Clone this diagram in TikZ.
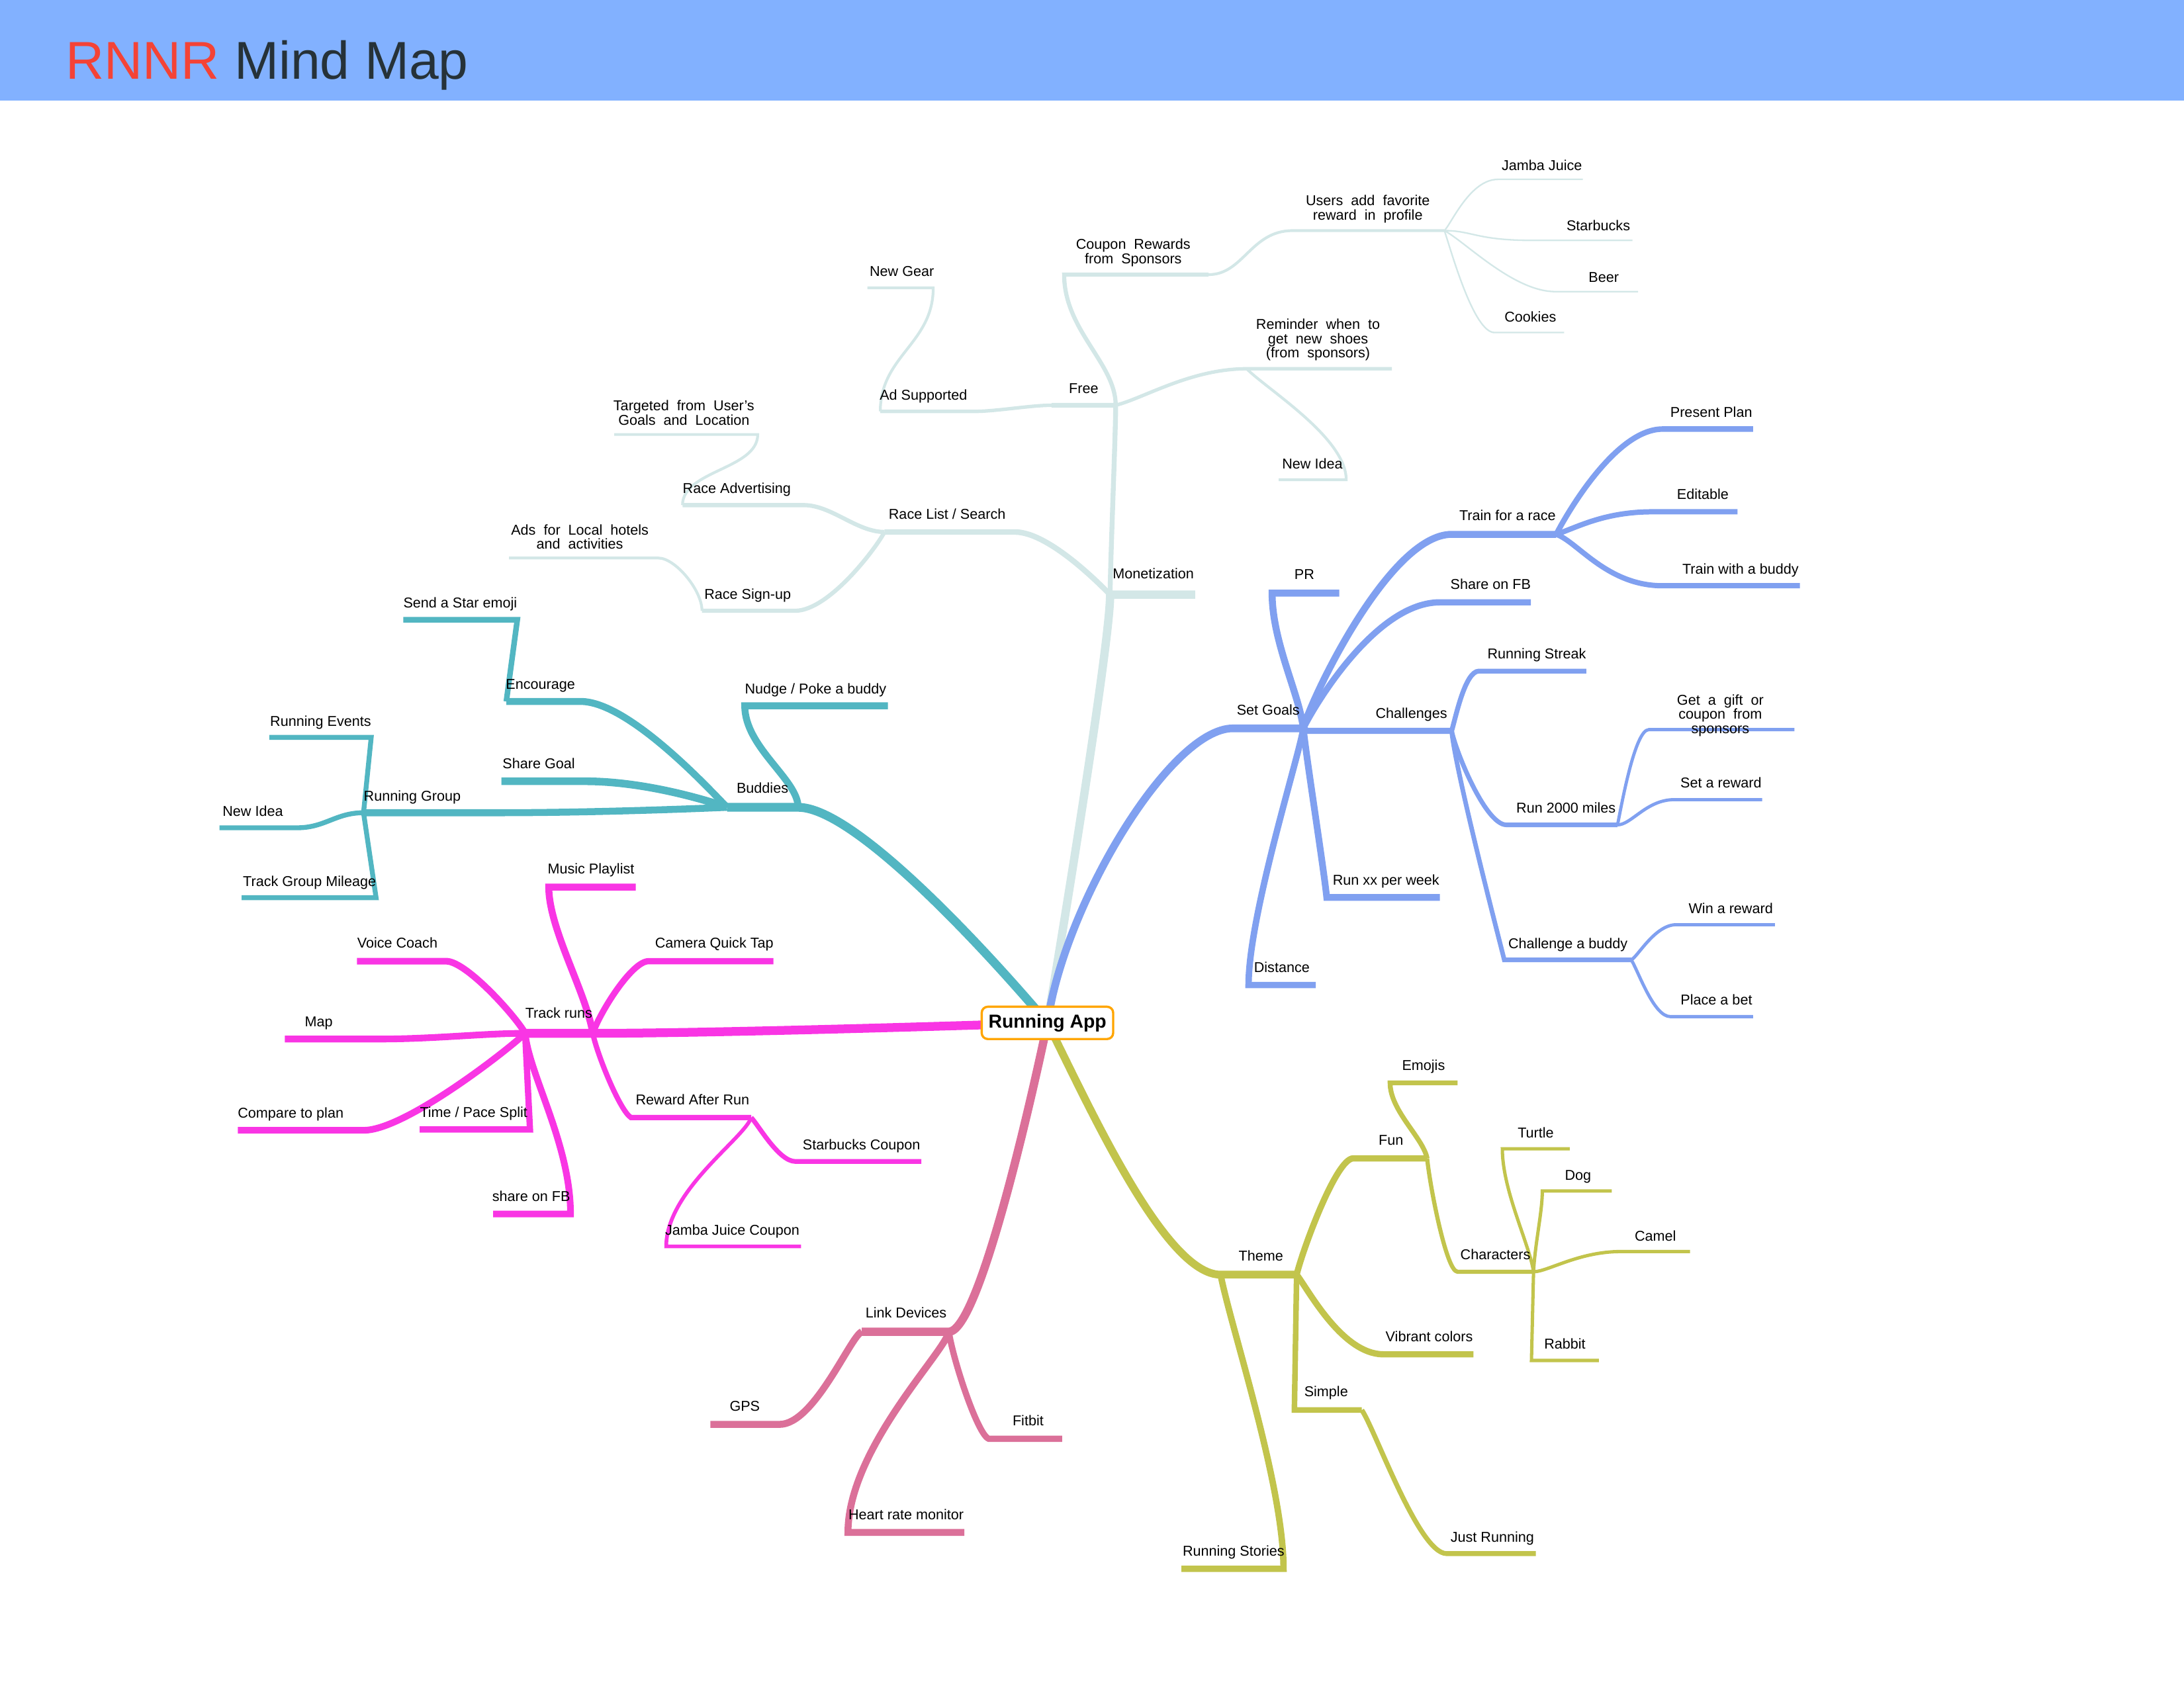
\documentclass[tikz,border=0pt]{standalone}
\usepackage{fontspec}
\setmainfont{Liberation Sans}
\pgfdeclarelayer{lines}
\pgfsetlayers{lines,main}
\definecolor{cMon}{RGB}{211,231,231}
\definecolor{cBud}{RGB}{82,182,194}
\definecolor{cTrk}{RGB}{249,53,228}
\definecolor{cSet}{RGB}{128,160,240}
\definecolor{cThm}{RGB}{194,196,76}
\definecolor{cLnk}{RGB}{219,112,153}
\definecolor{cBand}{RGB}{130,177,255}
\definecolor{cRed}{RGB}{244,67,54}
\definecolor{cInk}{RGB}{38,50,56}
\definecolor{cRoot}{RGB}{255,165,0}
\setlength{\lineskiplimit}{-10pt}
\newcommand\dsp{\ \ }
% branch: name, style, parent, c1, c2, x-attach, x-far, y
\newcommand\mmbr[8]{%
  \coordinate (#1-a) at (#6,#8);
  \coordinate (#1-b) at (#7,#8);
  \begin{pgfonlayer}{lines}
  \draw[#2] (#3) .. controls +(#4) and +(#5) .. (#1-a) -- (#1-b);
  \end{pgfonlayer}}
\newcommand\mmlb[4]{\node[lbl] (#1) at (#2,#3) {#4};}
\newcommand\mmlbm[4]{\node[lblm] (#1) at (#2,#3) {#4};}
\begin{document}
\begin{tikzpicture}[x=0.25mm,y=-0.25mm,
  lw/.style={line width=#1*0.711pt},
  lbl/.style={font=\fontsize{7.3}{7.3}\selectfont, inner sep=0pt, text height=5.2pt, text depth=0pt, anchor=center},
  lblm/.style={font=\fontsize{7.3}{7.3}\selectfont, inner sep=0pt, align=center, anchor=center},
  rootbox/.style={draw=cRoot, line width=1.15pt, fill=white, rounded corners=1.1mm, minimum width=23.6mm, minimum height=5.8mm, inner sep=0pt, font=\bfseries\fontsize{9.6}{9.6}\selectfont}]
\useasboundingbox (0,0) rectangle (1568,1212);
\fill[cBand] (0,0) rectangle (1568,72);
\node[anchor=base west, inner sep=0pt, font=\fontsize{27.2}{27.2}\selectfont] (title) at (47,57) {\textcolor{cRed}{RNNR} \textcolor{cInk}{Mind Map}};
\node[rootbox] (root) at (752,734.5) {Running App};

% ---------------- Monetization
\mmbr{m0}{cMon,lw=6}{root.center}{0,0}{0,40}{797}{858}{427}
\mmbr{m1}{cMon,lw=3.5}{m0-a}{0,-20}{0,20}{801}{755}{291}
\mmbr{m1a}{cMon,lw=2.5}{m1-b}{-15,0}{15,0}{700}{632}{295.4}
\mmbr{m1a1}{cMon,lw=2}{m1a-b}{0,-40}{0,40}{670}{622.7}{206.7}
\mmbr{m1b}{cMon,lw=3}{m1-a}{0,-30}{0,40}{764}{867.7}{197.2}
\mmbr{m1b1}{cMon,lw=2}{m1b-b}{25,0}{-30,0}{928}{1037}{165.6}
\mmbr{m1b1a}{cMon,lw=1.1}{m1b1-b}{5,-5}{-20,0}{1075.4}{1136.4}{128.8}
\mmbr{m1b1b}{cMon,lw=1.1}{m1b1-b}{20,0}{-40,0}{1100}{1172}{172.6}
\mmbr{m1b1c}{cMon,lw=1.1}{m1b1-b}{15,8}{-30,0}{1116.6}{1176}{209.4}
\mmbr{m1b1d}{cMon,lw=1.1}{m1b1-b}{5,15}{-15,0}{1073}{1123}{238.8}
\mmbr{m1c}{cMon,lw=2.5}{m1-a}{20,-5}{-40,0}{895}{999.3}{264.8}
\mmbr{m1c1}{cMon,lw=2}{m1c-a}{15,15}{0,-30}{966.5}{918}{344.5}
\mmbr{m2}{cMon,lw=4}{m0-a}{-5,-5}{25,0}{728.6}{635}{382}
\mmbr{m2a}{cMon,lw=3}{m2-b}{-20,0}{20,0}{577}{490}{362.7}
\mmbr{m2a1}{cMon,lw=2}{m2a-b}{0,-25}{0,25}{544}{441}{312}
\mmbr{m2b}{cMon,lw=3}{m2-b}{-5,10}{25,0}{570.7}{504}{438.6}
\mmbr{m2b1}{cMon,lw=2}{m2b-b}{0,-15}{12,0}{472.7}{365.5}{400.7}

\mmlb{m0}{828}{412}{Monetization}
\mmlb{m1}{778}{279}{Free}
\mmlb{m1a}{663}{283.5}{Ad Supported}
\mmlb{m1a1}{647.5}{194.8}{New Gear}
\mmlbm{m1b}{813.6}{181.5}{Coupon\dsp Rewards\\from\dsp Sponsors}
\mmlbm{m1b1}{982}{150}{Users\dsp add\dsp favorite\\reward\dsp in\dsp profile}
\mmlb{m1b1a}{1107}{118.5}{Jamba Juice}
\mmlb{m1b1b}{1147.5}{161.9}{Starbucks}
\mmlb{m1b1c}{1151.4}{198.8}{Beer}
\mmlb{m1b1d}{1098.7}{227.3}{Cookies}
\mmlbm{m1c}{946.3}{244}{Reminder\dsp when\dsp to\\get\dsp new\dsp shoes\\(from\dsp sponsors)}
\mmlb{m1c1}{942.2}{332.8}{New Idea}
\mmlb{m2}{680}{369}{Race List / Search}
\mmlb{m2a}{529}{350.7}{Race Advertising}
\mmlbm{m2a1}{491}{296.5}{Targeted\dsp from\dsp User's\\Goals\dsp and\dsp Location}
\mmlb{m2b}{536.8}{426.7}{Race Sign-up}
\mmlbm{m2b1}{416.3}{385.5}{Ads\dsp for\dsp Local\dsp hotels\\and\dsp activities}

% ---------------- Buddies
\mmbr{b0}{cBud,lw=6.3}{root.center}{0,0}{50,0}{573}{522}{579.7}
\mmbr{b1}{cBud,lw=5}{b0-b}{-10,-10}{35,0}{417}{363.5}{503.7}
\mmbr{b1a}{cBud,lw=4}{b1-b}{0,0}{0,0}{371.4}{289.6}{445}
\mmbr{b2}{cBud,lw=5.5}{b0-b}{0,0}{50,0}{420}{360}{561}
\mmbr{b3}{cBud,lw=5}{b0-b}{0,0}{80,0}{356.6}{261}{583.6}
\mmbr{b3a}{cBud,lw=3.5}{b3-b}{0,0}{0,0}{266.5}{193.3}{529.5}
\mmbr{b3b}{cBud,lw=3.5}{b3-b}{-20,0}{20,0}{213.4}{157.6}{594.4}
\mmbr{b3c}{cBud,lw=3.5}{b3-b}{0,0}{0,0}{270}{173.5}{644.6}
\mmbr{b4}{cBud,lw=5}{b0-a}{0,-20}{0,30}{534.7}{637.5}{506.8}

\mmlb{b0}{547.4}{565.8}{Buddies}
\mmlb{b1}{388}{491}{Encourage}
\mmlb{b1a}{330.4}{432.7}{Send a Star emoji}
\mmlb{b2}{386.8}{548}{Share Goal}
\mmlb{b3}{296}{571.5}{Running Group}
\mmlb{b3a}{230.2}{517.6}{Running Events}
\mmlb{b3b}{181.5}{582.4}{New Idea}
\mmlb{b3c}{222.2}{633}{Track Group Mileage}
\mmlb{b4}{585.6}{494.5}{Nudge / Poke a buddy}

% ---------------- Track runs
\mmbr{t0}{cTrk,lw=6.3}{root.center}{0,0}{100,0}{425.6}{377}{742}
\mmbr{t1}{cTrk,lw=5}{t0-a}{-5,-30}{0,30}{394}{456.4}{637}
\mmbr{t2}{cTrk,lw=4.5}{t0-a}{5,-15}{-12,0}{465.6}{555.3}{690.2}
\mmbr{t3}{cTrk,lw=3.8}{t0-a}{3,15}{-8,-5}{453}{539.3}{802.5}
\mmbr{t3a}{cTrk,lw=3.4}{t3-b}{5,5}{-12,0}{571}{661.5}{834}
\mmbr{t3b}{cTrk,lw=2.7}{t3-b}{-5,15}{0,-40}{478.3}{575.1}{895}
\mmbr{t4}{cTrk,lw=4.8}{t0-b}{-5,-10}{15,0}{320.3}{256.3}{690.2}
\mmbr{t5}{cTrk,lw=4.8}{t0-b}{-30,0}{40,0}{271.8}{204.5}{746.1}
\mmbr{t6}{cTrk,lw=4.8}{t0-b}{-10,10}{30,0}{261.3}{170.8}{811.6}
\mmbr{t7}{cTrk,lw=4.5}{t0-b}{0,0}{0,0}{380.5}{301.3}{811}
\mmbr{t8}{cTrk,lw=4.8}{t0-b}{3,30}{0,-50}{409.6}{354}{871.7}

\mmlb{t0}{401.2}{727.4}{Track runs}
\mmlb{t1}{424.3}{623.6}{Music Playlist}
\mmlb{t2}{512.8}{677}{Camera Quick Tap}
\mmlb{t3}{497.2}{789.5}{Reward After Run}
\mmlb{t3a}{618.5}{822}{Starbucks Coupon}
\mmlb{t3b}{525.8}{883.2}{Jamba Juice Coupon}
\mmlb{t4}{285.3}{677}{Voice Coach}
\mmlb{t5}{228.9}{733.7}{Map}
\mmlb{t6}{208.7}{799.2}{Compare to plan}
\mmlb{t7}{340.1}{798.6}{Time / Pace Split}
\mmlb{t8}{381.4}{858.8}{share on FB}

% ---------------- Set Goals
\mmbr{s0}{cSet,lw=5.5}{root.center}{12,-85}{-45,0}{885.2}{935.7}{523}
\mmbr{s1}{cSet,lw=5}{s0-b}{-3,-25}{0,35}{913.3}{961.5}{425.9}
\mmbr{s2}{cSet,lw=5}{s0-b}{5,-20}{-45,0}{1042.2}{1117.3}{383.7}
\mmbr{s2a}{cSet,lw=4}{s2-b}{5,-10}{-35,0}{1193.6}{1258.6}{308.1}
\mmbr{s2b}{cSet,lw=3.8}{s2-b}{15,-5}{-35,0}{1186.6}{1247.4}{367.5}
\mmbr{s2c}{cSet,lw=3.8}{s2-b}{15,5}{-40,0}{1193.6}{1292.2}{420.6}
\mmbr{s3}{cSet,lw=4.5}{s0-b}{10,-20}{-45,0}{1033.8}{1099.1}{432.5}
\mmbr{s4}{cSet,lw=4.5}{s0-b}{0,0}{0,0}{938.5}{1042.2}{524.8}
\mmbr{s4a}{cSet,lw=3.5}{s4-b}{3,-10}{-10,0}{1061.8}{1138.9}{481.9}
\mmbr{s4b}{cSet,lw=3.3}{s4-b}{3,15}{-15,0}{1081.5}{1161.3}{592.3}
\mmbr{s4b1}{cSet,lw=2.3}{s4b-b}{3,-15}{-10,0}{1183.8}{1288.3}{523.9}
\mmbr{s4b2}{cSet,lw=2.3}{s4b-b}{10,0}{-20,0}{1202}{1265.1}{574.2}
\mmbr{s4c}{cSet,lw=3.3}{s4-b}{3,30}{-5,-20}{1080}{1171.2}{689.3}
\mmbr{s4c1}{cSet,lw=2.3}{s4c-b}{5,-3}{-15,0}{1203.4}{1274.3}{664}
\mmbr{s4c2}{cSet,lw=2.3}{s4c-b}{5,8}{-12,0}{1199.2}{1258.6}{730}
\mmbr{s5}{cSet,lw=4.8}{s0-b}{2,20}{-2,-20}{952.5}{1033.8}{644.4}
\mmbr{s6}{cSet,lw=4.6}{s0-b}{-3,20}{0,-50}{896.4}{944.7}{707.3}

\mmlb{s0}{910.5}{509.6}{Set Goals}
\mmlb{s1}{936.5}{412.3}{PR}
\mmlb{s2}{1082.3}{370.2}{Train for a race}
\mmlb{s2a}{1228.6}{295.9}{Present Plan}
\mmlb{s2b}{1222.5}{355}{Editable}
\mmlb{s2c}{1249.6}{408.4}{Train with a buddy}
\mmlb{s3}{1070.2}{419.5}{Share on FB}
\mmlb{s4}{1013.3}{511.9}{Challenges}
\mmlb{s4a}{1103.3}{469.3}{Running Streak}
\mmlb{s4b}{1124.3}{579.9}{Run 2000 miles}
\mmlbm{s4b1}{1235.1}{513.8}{Get\dsp a\dsp gift\dsp or\\coupon\dsp from\\sponsors}
\mmlb{s4b2}{1235.6}{562.1}{Set a reward}
\mmlb{s4c}{1125.7}{677.3}{Challenge a buddy}
\mmlb{s4c1}{1242.6}{652.4}{Win a reward}
\mmlb{s4c2}{1232.3}{718}{Place a bet}
\mmlb{s5}{995.1}{631.7}{Run xx per week}
\mmlb{s6}{920.3}{694.5}{Distance}

% ---------------- Theme
\mmbr{h0}{cThm,lw=5.6}{root.center}{30,60}{-40,0}{876.3}{930.9}{915.3}
\mmbr{h1}{cThm,lw=4.5}{h0-b}{5,-20}{-12,0}{971.5}{1024.6}{831.8}
\mmbr{h1a}{cThm,lw=3.5}{h1-b}{-3,-15}{0,20}{998}{1046.4}{777.6}
\mmbr{h1b}{cThm,lw=3}{h1-b}{2,20}{-8,0}{1046.4}{1101}{913.2}
\mmbr{h1b1}{cThm,lw=2.4}{h1b-b}{-3,-20}{0,30}{1078.6}{1127}{824.9}
\mmbr{h1b2}{cThm,lw=2.4}{h1b-b}{1,-20}{0,15}{1107.3}{1157.2}{855.2}
\mmbr{h1b3}{cThm,lw=2.4}{h1b-b}{10,0}{-30,0}{1163.5}{1213.4}{898.7}
\mmbr{h1b4}{cThm,lw=2.4}{h1b-b}{0,0}{0,0}{1099.5}{1147.9}{976.9}
\mmbr{h2}{cThm,lw=4.5}{h0-b}{8,10}{-30,0}{993.3}{1057.9}{972.5}
\mmbr{h3}{cThm,lw=4}{h0-b}{0,0}{0,0}{929.3}{977.7}{1012.5}
\mmbr{h3a}{cThm,lw=3.5}{h3-b}{10,15}{-20,0}{1038.6}{1102.6}{1115.6}
\mmbr{h4}{cThm,lw=4.6}{h0-a}{8,40}{0,-60}{921.5}{848.2}{1126.5}

\mmlb{h0}{905.3}{901.8}{Theme}
\mmlb{h1}{998.6}{818.6}{Fun}
\mmlb{h1a}{1022}{765.1}{Emojis}
\mmlb{h1b}{1073.6}{901}{Characters}
\mmlb{h1b1}{1102.6}{813.5}{Turtle}
\mmlb{h1b2}{1132.9}{844}{Dog}
\mmlb{h1b3}{1188.5}{887.5}{Camel}
\mmlb{h1b4}{1123.5}{964.9}{Rabbit}
\mmlb{h2}{1026.1}{959.8}{Vibrant colors}
\mmlb{h3}{952.1}{999.3}{Simple}
\mmlb{h3a}{1071.4}{1103.6}{Just Running}
\mmlb{h4}{885.6}{1113.8}{Running Stories}

% ---------------- Link Devices
\mmbr{k0}{cLnk,lw=6}{root.center}{0,0}{25,0}{681.2}{618.7}{956.3}
\mmbr{k1}{cLnk,lw=5}{k0-b}{-8,3}{25,0}{559.7}{510}{1022.8}
\mmbr{k2}{cLnk,lw=5}{k0-a}{-3,15}{0,-60}{608.8}{692.3}{1100.4}
\mmbr{k3}{cLnk,lw=4.5}{k0-a}{3,20}{-8,-3}{709.8}{762.6}{1033.1}

\mmlb{k0}{650.5}{942.4}{Link Devices}
\mmlb{k1}{534.7}{1009.7}{GPS}
\mmlb{k2}{650.5}{1087.3}{Heart rate monitor}
\mmlb{k3}{738.1}{1020}{Fitbit}
\end{tikzpicture}
\end{document}
